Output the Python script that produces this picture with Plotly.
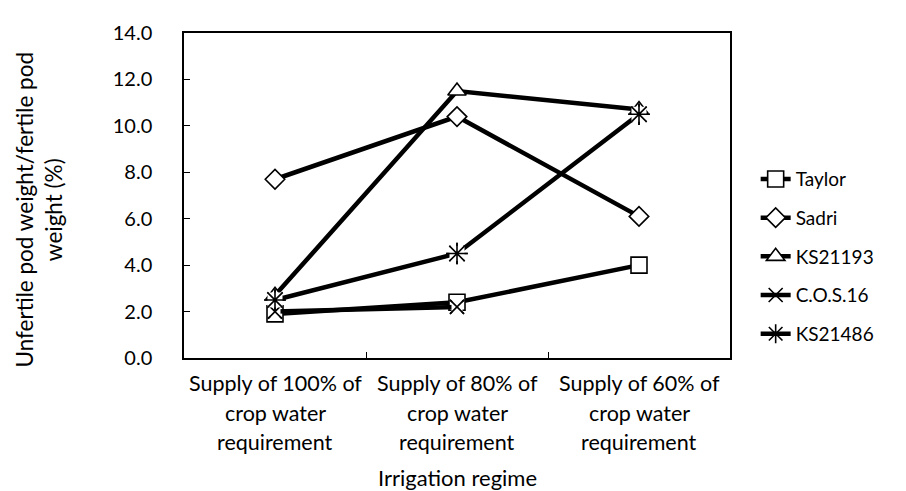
import plotly.graph_objects as go

categories = ["Supply of 100% of crop water requirement",
              "Supply of 80% of crop water requirement",
              "Supply of 60% of crop water requirement"]
category_lines = [["Supply of 100% of", "crop water", "requirement"],
                  ["Supply of 80% of", "crop water", "requirement"],
                  ["Supply of 60% of", "crop water", "requirement"]]

taylor = [1.9, 2.4, 4.0]
sadri = [7.7, 10.4, 6.1]
ks21193 = [2.7, 11.5, 10.7]
cos16 = [2.0, 2.2, None]
ks21486 = [2.5, 4.5, 10.5]

series_names = ["Taylor", "Sadri", "KS21193", "C.O.S.16", "KS21486"]
series_values = [taylor, sadri, ks21193, cos16, ks21486]
symbols = ["square", "diamond", "triangle-up", "x-thin-open", "asterisk-open"]
sizes = [16, 15, 16, 14, 18]

y_ticks = [0, 2, 4, 6, 8, 10, 12, 14]

FONT = "Lato"
fig = go.Figure()

for name, vals, sym, sz in zip(series_names, series_values, symbols, sizes):
    open_sym = sym.endswith("-open")
    fig.add_trace(go.Scatter(
        x=categories, y=vals, name=name, mode="lines+markers",
        line=dict(color="black", width=4.5),
        marker=dict(symbol=sym, size=sz, color="black" if open_sym else "white",
                    line=dict(color="black", width=1.6)),
        legendgroup=name,
    ))
    if open_sym:
        # white background box behind line-only symbols
        fig.add_trace(go.Scatter(
            x=categories, y=vals, mode="markers", showlegend=False, hoverinfo="skip",
            marker=dict(symbol="square", size=sz - 3, color="white", line=dict(width=0)),
        ))
        fig.add_trace(go.Scatter(
            x=categories, y=vals, mode="markers", showlegend=False, hoverinfo="skip",
            marker=dict(symbol=sym, size=sz, color="black",
                        line=dict(color="black", width=1.6)),
        ))

annotations = []
for cat, lines in zip(categories, category_lines):
    for j, txt in enumerate(lines):
        annotations.append(dict(
            x=cat, xref="x", y=0, yref="paper", text=txt, showarrow=False,
            xanchor="center", yanchor="middle", yshift=-25 - 29.5 * j,
            font=dict(family=FONT, size=21.5, color="black")))
annotations.append(dict(
    x=0.5, xref="paper", y=0, yref="paper", text="Irrigation regime", showarrow=False,
    xanchor="center", yanchor="middle", yshift=-119,
    font=dict(family=FONT, size=22, color="black")))
annotations.append(dict(
    x=0, xref="paper", y=0.5, yref="paper",
    text="Unfertile pod weight/fertile pod<br>weight (%)", showarrow=False,
    textangle=-90, xanchor="center", yanchor="middle", xshift=-146, yshift=-14,
    font=dict(family=FONT, size=22.5, color="black")))

fig.update_layout(
    width=906, height=491,
    margin=dict(l=176, r=184, t=23, b=141),
    paper_bgcolor="white", plot_bgcolor="white",
    font=dict(family=FONT, size=19, color="black"),
    showlegend=True,
    legend=dict(x=1.047, xanchor="left", y=0.312, yanchor="middle",
                traceorder="grouped", tracegroupgap=11,
                font=dict(family=FONT, size=19, color="black"),
                bgcolor="rgba(0,0,0,0)"),
    annotations=annotations,
)
fig.update_xaxes(
    type="category", categoryarray=categories, range=[-0.5, 2.5],
    showticklabels=False, ticks="inside", tickson="boundaries", ticklen=6,
    tickcolor="black", tickwidth=1.3,
    showline=True, mirror=True, linecolor="black", linewidth=1.5,
    showgrid=False, zeroline=False,
)
fig.update_yaxes(
    range=[0, 14], tickvals=y_ticks, tickformat=".1f",
    ticks="inside", ticklen=6, tickcolor="black", tickwidth=1.3,
    ticklabelstandoff=26,
    showline=True, mirror=True, linecolor="black", linewidth=1.5,
    showgrid=False, zeroline=False,
    tickfont=dict(family=FONT, size=20, color="black"),
)

fig.write_html("out.html")
